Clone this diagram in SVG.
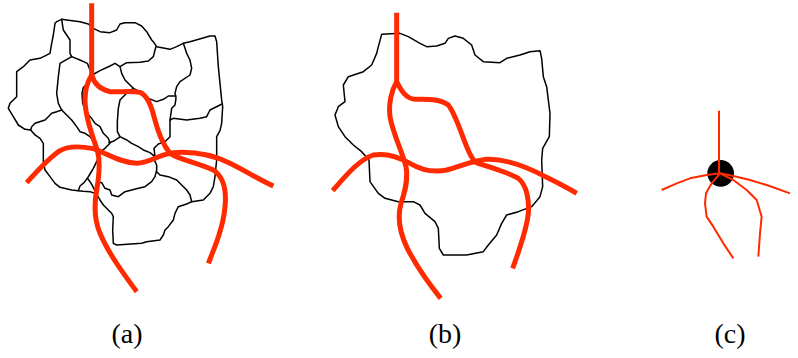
<svg xmlns="http://www.w3.org/2000/svg" width="798" height="358" viewBox="0 0 798 358">
<style>
.b{fill:none;stroke:#000;stroke-width:4.5;stroke-linejoin:round;stroke-linecap:round}
.r{fill:none;stroke:#ff2a00;stroke-width:15;stroke-linejoin:round;stroke-linecap:butt}
.rt{fill:none;stroke:#ff2a00;stroke-width:6;stroke-linejoin:round}
.lbl{font-family:"Liberation Serif","DejaVu Serif",serif;font-size:28px;fill:#000;text-anchor:middle}
</style>
<rect width="798" height="358" fill="#fff"/>
<!-- panel a -->
<g id="panel-a" transform="scale(0.33333)">
<g id="a-cells">
<path class="b" d="M170,65 L185,58 L200,60 L240,65 L265,72 L280,85 L300,95 L330,98 L350,90 L360,72 L375,68 L405,68 L425,78 L440,95 L455,120 L460,125 L470,140 L510,148 L530,140 L550,130 L570,125 L630,108 L645,108 L650,125 L655,200 L660,250 L665,300 L668,320 L665,370 L660,392 L650,410 L650,480 L645,530 L640,560 L630,580 L610,600 L575,605 L560,612 L535,620 L525,640 L520,660 L505,680 L495,690 L490,705 L480,720 L440,725 L425,730 L350,735 L340,730 L338,690 L340,650 L335,640 L325,630 L310,615 L300,600 L290,582 L270,575 L250,574 L235,572 L215,570 L180,562 L165,550 L150,530 L135,510 L130,485 L130,430 L120,415 L105,405 L92,390 L75,388 L55,375 L40,350 L25,325 L30,310 L50,290 L50,215 L70,200 L90,180 L120,175 L150,160 L155,130 L160,105 L165,70 Z"/>
<path class="b" d="M185,58 L190,90 L200,105 L210,120 L210,160 L215,170"/>
<path class="b" d="M215,170 L180,190 L175,230 L170,280 L175,310 L185,330"/>
<path class="b" d="M215,170 L240,180 L262,190 L270,210 L278,222"/>
<path class="b" d="M185,330 L170,335 L155,340 L145,350 L135,360 L105,370 L95,380 L92,390"/>
<path class="b" d="M185,330 L200,345 L215,360 L230,380 L240,395 L255,400 L270,410 L285,430 L298,455"/>
<path class="b" d="M282,222 L300,212 L330,198 L345,190 L360,200 L365,220 L375,240 L390,255 L400,265"/>
<path class="b" d="M360,200 L380,188 L420,187 L445,183 L460,170 L465,150 L468,140"/>
<path class="b" d="M400,265 L380,280 L360,300 L355,325 L352,365 L352,395 L360,410 L380,420 L395,430 L415,440 L430,450 L450,458 L465,470"/>
<path class="b" d="M400,265 L420,275 L445,295 L470,305 L490,298 L505,288 L528,288"/>
<path class="b" d="M550,130 L560,160 L570,180 L575,205 L570,225 L540,245 L530,260 L525,280 L528,295 L525,315 L515,325 L510,360 L510,410 L495,425 L475,432 L462,445 L465,470"/>
<path class="b" d="M510,360 L520,355 L560,360 L600,355 L620,350 L630,330 L666,312"/>
<path class="b" d="M268,248 L250,262 L246,280 L248,310 L255,330 L265,345 L275,355 L285,370 L300,380 L310,400 L325,415 L330,430 L315,445 L302,455"/>
<path class="b" d="M327,428 L340,424 L358,412"/>
<path class="b" d="M298,465 L290,485 L280,505 L270,522 L262,535 L252,548 L240,558 L235,572"/>
<path class="b" d="M262,535 L272,548 L280,562 L288,580"/>
<path class="b" d="M293,545 L305,548 L315,565 L330,570 L335,585 L355,590 L375,575 L395,570 L415,565 L435,560 L455,545 L465,530 L470,510 L470,495 L462,478 L465,470"/>
<path class="b" d="M470,515 L480,525 L505,530 L530,540 L545,555 L560,570 L570,585 L575,605"/>
</g>
<g id="a-routes">
<path class="r" d="M275,10 L275,225 C282,250 300,268 330,275 C355,278 385,270 420,277 C440,285 452,310 462,350 C472,390 485,430 510,460 C540,480 600,490 640,510 C670,530 680,570 675,620 C670,680 645,740 625,790"/>
<path class="r" d="M275,225 C262,245 255,270 255,300 C256,350 275,400 293,455 C302,490 297,530 290,570 C283,610 283,660 300,700 C325,760 370,820 410,875"/>
<path class="r" d="M80,548 C110,515 140,480 175,455 C200,438 240,438 280,446 C320,460 360,488 410,490 C450,488 480,462 520,458 C580,454 640,465 690,490 C740,515 780,540 820,558"/>
</g>
</g>
<!-- panel b -->
<g id="panel-b" transform="translate(320,0) scale(0.33333)">
<path id="b-outline" class="b" d="M185,103 L240,100 L265,110 L300,130 L320,140 L350,138 L375,130 L385,115 L405,108 L430,115 L455,135 L465,165 L490,185 L540,188 L560,175 L600,165 L630,155 L660,152 L665,175 L670,230 L680,260 L690,340 L688,410 L668,445 L665,480 L668,560 L660,590 L635,620 L595,635 L560,645 L545,670 L530,705 L505,735 L490,755 L440,765 L370,765 L358,745 L355,685 L345,665 L315,640 L300,615 L280,605 L235,605 L215,600 L195,595 L175,580 L150,545 L147,480 L125,455 L100,435 L75,410 L55,380 L45,345 L55,320 L75,305 L70,255 L85,230 L130,215 L155,195 L170,160 L175,140 Z"/>
<g id="b-routes">
<path class="r" d="M230,38 L230,245 C245,275 258,295 285,298 C320,298 360,295 385,315 C405,340 420,390 440,440 C450,465 458,480 468,487 C500,500 560,515 595,535 C620,555 628,600 625,640 C620,690 598,750 578,805"/>
<path class="r" d="M230,245 C215,270 205,310 210,350 C218,400 245,450 258,500 C265,540 255,575 243,610 C232,650 240,700 262,745 C290,800 330,855 362,895"/>
<path class="r" d="M38,572 C75,530 115,480 160,465 C200,458 235,470 270,490 C300,508 340,518 380,510 C420,500 450,484 500,478 C560,476 620,500 680,532 C720,552 745,565 770,580"/>
</g>
</g>
<!-- panel c -->
<g id="panel-c" transform="translate(650,90) scale(0.33333)">
<circle id="c-node" cx="212" cy="250" r="40" fill="#000"/>
<g id="c-routes">
<path class="rt" d="M207,62 L207,250"/>
<path class="rt" d="M210,250 L170,255 L120,265 L80,280 L35,300"/>
<path class="rt" d="M210,250 L250,258 L300,270 L350,285 L420,310"/>
<path class="rt" d="M210,250 L185,280 L168,310 L165,340 L170,380 L190,410 L220,460 L250,505"/>
<path class="rt" d="M210,250 L250,270 L290,300 L320,330 L335,380 L330,430 L325,500"/>
</g>
</g>
<g id="labels">
<text class="lbl" x="127" y="343">(a)</text>
<text class="lbl" x="445" y="343">(b)</text>
<text class="lbl" x="730" y="343">(c)</text>
</g>
</svg>
